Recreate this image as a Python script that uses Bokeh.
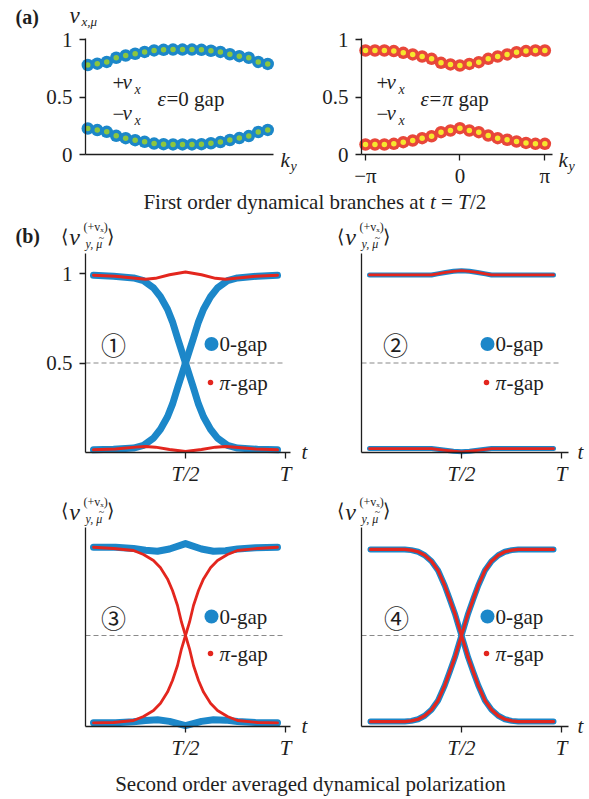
from bokeh.plotting import figure
from bokeh.layouts import column, row
from bokeh.models import Label, FixedTicker, Range1d
from bokeh.embed import file_html
from bokeh.resources import INLINE

# ---------------------------------------------------------------- data
# (a) first-order dynamical branches at t = T/2, 20 samples across k_y
ky_index = list(range(20))
ky_tick_labels = {0: "−π", 10: "0", 19: "π"}

zero_gap_plus = [0.778, 0.790, 0.805, 0.841, 0.861, 0.876, 0.892, 0.905, 0.910, 0.912,
                 0.912, 0.912, 0.910, 0.902, 0.892, 0.872, 0.855, 0.841, 0.805, 0.788]
zero_gap_minus = [0.226, 0.212, 0.197, 0.162, 0.142, 0.125, 0.110, 0.095, 0.090, 0.088,
                  0.088, 0.088, 0.090, 0.098, 0.108, 0.126, 0.143, 0.160, 0.196, 0.214]
pi_gap_plus = [0.904, 0.904, 0.904, 0.899, 0.884, 0.870, 0.852, 0.832, 0.797, 0.783,
               0.774, 0.788, 0.803, 0.832, 0.852, 0.870, 0.890, 0.899, 0.904, 0.904]
pi_gap_minus = [0.087, 0.087, 0.087, 0.093, 0.107, 0.122, 0.142, 0.159, 0.194, 0.209,
                0.229, 0.209, 0.194, 0.165, 0.142, 0.128, 0.113, 0.101, 0.093, 0.093]

# (b) second-order averaged dynamical polarization, t in units of T
t_cross = [0.04, 0.14, 0.24, 0.29, 0.34, 0.375, 0.41, 0.435, 0.46, 0.48, 0.5,
           0.52, 0.54, 0.565, 0.59, 0.625, 0.66, 0.71, 0.76, 0.86, 0.96]
t_flat = [0.04, 0.15, 0.25, 0.3, 0.35, 0.42, 0.5, 0.58, 0.65, 0.7, 0.75, 0.85, 0.96]

# panel 1
p1_zero_down = [0.99, 0.985, 0.975, 0.96, 0.92, 0.87, 0.80, 0.73, 0.64, 0.57, 0.50,
                0.43, 0.36, 0.27, 0.20, 0.13, 0.08, 0.04, 0.025, 0.018, 0.015]
p1_zero_up = [0.015, 0.018, 0.025, 0.04, 0.08, 0.13, 0.20, 0.27, 0.36, 0.43, 0.50,
              0.57, 0.64, 0.73, 0.80, 0.87, 0.92, 0.96, 0.975, 0.985, 0.99]
p1_pi_top = [0.99, 0.985, 0.973, 0.968, 0.973, 0.993, 1.008, 0.993, 0.973, 0.968, 0.973, 0.985, 0.99]
p1_pi_bottom = [0.015, 0.02, 0.03, 0.034, 0.03, 0.017, 0.005, 0.017, 0.03, 0.034, 0.03, 0.02, 0.015]

# panel 2
t2 = [0.04, 0.2, 0.35, 0.38, 0.42, 0.46, 0.5, 0.54, 0.58, 0.62, 0.65, 0.8, 0.96]
p2_zero_top = [0.992, 0.992, 0.992, 0.998, 1.006, 1.012, 1.016, 1.012, 1.006, 0.998, 0.992, 0.992, 0.992]
p2_zero_bottom = [0.022, 0.022, 0.022, 0.018, 0.012, 0.007, 0.004, 0.007, 0.012, 0.018, 0.022, 0.022, 0.022]
p2_pi_top = [0.992, 0.992, 0.992, 0.998, 1.006, 1.012, 1.016, 1.012, 1.006, 0.998, 0.992, 0.992, 0.992]
p2_pi_bottom = [0.022, 0.022, 0.022, 0.018, 0.012, 0.007, 0.004, 0.007, 0.012, 0.018, 0.022, 0.022, 0.022]

# panel 3
t3 = [0.04, 0.15, 0.24, 0.3, 0.36, 0.42, 0.5, 0.58, 0.64, 0.7, 0.76, 0.85, 0.96]
p3_zero_top = [0.985, 0.985, 0.978, 0.968, 0.963, 0.975, 1.005, 0.975, 0.963, 0.966, 0.975, 0.982, 0.985]
p3_zero_bottom = [0.02, 0.02, 0.026, 0.033, 0.037, 0.028, 0.005, 0.028, 0.037, 0.035, 0.027, 0.022, 0.02]
p3_pi_down = [0.985, 0.978, 0.967, 0.945, 0.912, 0.872, 0.811, 0.747, 0.665, 0.573, 0.5,
              0.427, 0.335, 0.253, 0.189, 0.128, 0.088, 0.055, 0.033, 0.022, 0.02]
p3_pi_up = [0.02, 0.022, 0.033, 0.055, 0.088, 0.128, 0.189, 0.253, 0.335, 0.427, 0.5,
            0.573, 0.665, 0.747, 0.811, 0.872, 0.912, 0.945, 0.967, 0.978, 0.985]

# panel 4
t4 = [0.045, 0.216, 0.249, 0.283, 0.316, 0.35, 0.383, 0.416, 0.441, 0.467, 0.487, 0.5,
      0.513, 0.533, 0.559, 0.584, 0.617, 0.65, 0.684, 0.717, 0.751, 0.784, 0.96]
p4_zero_down = [0.973, 0.973, 0.969, 0.96, 0.941, 0.908, 0.857, 0.775, 0.70, 0.62, 0.546, 0.5,
                0.454, 0.38, 0.30, 0.225, 0.143, 0.092, 0.059, 0.04, 0.031, 0.027, 0.027]
p4_zero_up = [0.027, 0.027, 0.031, 0.04, 0.059, 0.092, 0.143, 0.225, 0.30, 0.38, 0.454, 0.5,
              0.546, 0.62, 0.70, 0.775, 0.857, 0.908, 0.941, 0.96, 0.969, 0.973, 0.973]
p4_pi_down = p4_zero_down
p4_pi_up = p4_zero_up

t_ticks = {0.5: "T/2", 1: "T"}

# ---------------------------------------------------------------- style
SERIF = "Liberation Serif"
INK = "#1e1e1e"
BLUE = "#1c87c9"
GREEN = "#8cc63f"
RED_A = "#e8473a"
YELLOW = "#f6e72e"
RED_B = "#e3261e"
DASH = "#8a8a8a"
FS = "21px"


class Panel:
    """A borderless figure whose axes sit at a fixed data location.

    (ox, oy) is the canvas pixel position of the data origin and sx, sy the
    pixels per data unit, so text can be placed anywhere on the canvas.
    """

    def __init__(self, page_x, page_y, width, height, ox, oy, sx, sy):
        self.ox, self.oy, self.sx, self.sy = ox, oy, sx, sy
        xr = ((page_x - ox) / sx, (page_x + width - ox) / sx)
        yr = ((oy - page_y - height) / sy, (oy - page_y) / sy)
        self.fig = figure(width=width, height=height,
                          x_range=Range1d(*xr), y_range=Range1d(*yr),
                          output_backend="svg", toolbar_location=None, min_border=0)
        f = self.fig
        f.grid.visible = False
        f.outline_line_color = None
        f.background_fill_color = "white"
        f.border_fill_color = "white"

    def at(self, X, Y):
        return (X - self.ox) / self.sx, (self.oy - Y) / self.sy

    def text(self, X, Y, s, size=FS, style="normal", align="left", font=SERIF, color=INK):
        x, y = self.at(X, Y)
        self.fig.add_layout(Label(x=x, y=y, text=s, text_font=font, text_font_size=size,
                                  text_font_style=style, text_align=align,
                                  text_baseline="middle", text_color=color))


def style_axis(ax, ticks, labels=None, italic=False, standoff=4, at=0.0, bounds=(0, 1)):
    ax.fixed_location = at
    ax.bounds = bounds
    ax.ticker = FixedTicker(ticks=ticks)
    if labels is not None:
        ax.major_label_overrides = labels
    ax.axis_line_color = INK
    ax.axis_line_width = 1.3
    ax.major_tick_line_color = INK if ticks else None
    ax.major_tick_line_width = 1.3
    ax.major_tick_out = 6
    ax.major_tick_in = 0
    ax.minor_tick_line_color = None
    ax.major_label_text_font = SERIF
    ax.major_label_text_font_size = FS
    ax.major_label_text_color = INK
    ax.major_label_standoff = standoff
    if italic:
        ax.major_label_text_font_style = "italic"


# ---------------------------------------------------------------- (a)
a_ylabels = {0: "0", 0.5: "0.5", 1: "1"}

fa1 = Panel(0, 0, 320, 188, 87.3, 154, 9.47, 115)
fa2 = Panel(320, 0, 269, 188, 365, 154, 9.44, 115)

style_axis(fa1.fig.xaxis[0], [], at=0, bounds=(-0.243, 19.61))
style_axis(fa1.fig.yaxis[0], [0, 0.5, 1], a_ylabels, standoff=7, at=-0.243, bounds=(0, 1.01))
style_axis(fa2.fig.xaxis[0], [0, 10, 19], ky_tick_labels, standoff=3, at=0, bounds=(-0.424, 19.81))
style_axis(fa2.fig.yaxis[0], [0, 0.5, 1], a_ylabels, standoff=7, at=-0.424, bounds=(0, 1.01))

for branch in (zero_gap_plus, zero_gap_minus):
    fa1.fig.scatter(ky_index, branch, size=12.5, fill_color=BLUE, line_color=None)
    fa1.fig.scatter(ky_index, branch, size=5.5, fill_color=GREEN, line_color=None)
for branch in (pi_gap_plus, pi_gap_minus):
    fa2.fig.scatter(ky_index, branch, size=12.5, fill_color=RED_A, line_color=None)
    fa2.fig.scatter(ky_index, branch, size=5.5, fill_color=YELLOW, line_color=None)

fa1.text(15, 16, "(a)", size="20px", style="bold")
fa1.text(74, 15, "v", size="23px", style="italic", align="center")
fa1.text(81, 21, "x,μ", size="13px", style="italic")

for pan, x_sign, x_eps in ((fa1, 112, 157), (fa2, 376, 420)):
    pan.text(x_sign, 82, "+", size=FS)
    pan.text(x_sign + 10, 81, "v", size=FS, style="italic")
    pan.text(x_sign + 22, 89, "x", size="14px", style="italic")
    pan.text(x_sign, 113, "−", size=FS)
    pan.text(x_sign + 10, 112, "v", size=FS, style="italic")
    pan.text(x_sign + 22, 120, "x", size="14px", style="italic")
    pan.text(x_eps, 98, "ε", size=FS, style="italic")

fa1.text(166, 98, "=0 gap", size=FS)
fa2.text(429, 98, "=", size=FS)
fa2.text(442, 98, "π", size=FS, style="italic")
fa2.text(458, 98, "gap", size=FS)

fa1.text(280, 159, "k", size=FS, style="italic")
fa1.text(290, 166, "y", size="14px", style="italic")
fa2.text(558, 159, "k", size=FS, style="italic")
fa2.text(568, 166, "y", size="14px", style="italic")


def caption_fig(height):
    c = figure(width=589, height=height, x_range=Range1d(0, 589), y_range=Range1d(0, height),
               output_backend="svg", toolbar_location=None,
               x_axis_location=None, y_axis_location=None, min_border=0)
    c.grid.visible = False
    c.outline_line_color = None
    return c


def cap_text(fig, x, y, s, style="normal", align="left"):
    fig.add_layout(Label(x=x, y=y, text=s, text_font=SERIF, text_font_size=FS,
                         text_font_style=style, text_align=align,
                         text_baseline="middle", text_color=INK))


cap1 = caption_fig(27)
cap_text(cap1, 424, 14, "First order dynamical branches at", align="right")
cap_text(cap1, 429.5, 14, "t", style="italic")
cap_text(cap1, 446.5, 14, "=", align="center")
cap_text(cap1, 457.5, 14, "T", style="italic")
cap_text(cap1, 469.5, 14, "/2")

# ---------------------------------------------------------------- (b)
b1 = Panel(0, 215, 320, 272, 85, 452, 200, 179)
b2 = Panel(320, 215, 269, 272, 361, 452, 200, 179)
b3 = Panel(0, 487, 320, 277, 85, 726, 200, 182)
b4 = Panel(320, 487, 269, 277, 361, 726, 200, 182)

style_axis(b1.fig.yaxis[0], [0.5, 1], {0.5: "0.5", 1: "1"}, standoff=7, bounds=(0, 1.112))
style_axis(b2.fig.yaxis[0], [], bounds=(0, 1.112))
style_axis(b3.fig.yaxis[0], [], bounds=(0, 1.093))
style_axis(b4.fig.yaxis[0], [], bounds=(0, 1.093))
for pan, x_end, dash_end in ((b1, 1.025, 0.99), (b2, 1.035, 0.985),
                             (b3, 1.025, 0.99), (b4, 1.035, 1.06)):
    style_axis(pan.fig.xaxis[0], [0.5, 1], t_ticks, italic=True, standoff=3,
               bounds=(0, x_end))
    pan.fig.line([0, dash_end], [0.5, 0.5], line_color=DASH, line_dash="5 3",
                 line_width=1.2)


def curve(pan, t, v, color, width):
    pan.fig.line(t, v, line_color=color, line_width=width,
                 line_cap="round", line_join="round")


curve(b1, t_cross, p1_zero_down, BLUE, 7)
curve(b1, t_cross, p1_zero_up, BLUE, 7)
curve(b1, t_flat, p1_pi_top, RED_B, 3)
curve(b1, t_flat, p1_pi_bottom, RED_B, 3)

curve(b2, t2, p2_zero_top, BLUE, 5)
curve(b2, t2, p2_zero_bottom, BLUE, 5)
curve(b2, t2, p2_pi_top, RED_B, 2.8)
curve(b2, t2, p2_pi_bottom, RED_B, 2.8)

curve(b3, t3, p3_zero_top, BLUE, 7)
curve(b3, t3, p3_zero_bottom, BLUE, 7)
curve(b3, t_cross, p3_pi_down, RED_B, 2.8)
curve(b3, t_cross, p3_pi_up, RED_B, 2.8)

curve(b4, t4, p4_zero_down, BLUE, 6)
curve(b4, t4, p4_zero_up, BLUE, 6)
curve(b4, t4, p4_pi_down, RED_B, 3.2)
curve(b4, t4, p4_pi_up, RED_B, 3.2)


def decorate(pan, y_top, badge, badge_dx, zero_y, pi_y):
    XL = pan.ox
    YT = pan.oy - y_top * pan.sy
    YB = pan.oy
    # y-axis label  <v^{(+v_x)}_{y, mu~}>
    pan.text(XL - 21, YT - 17, "⟨", size="19px", align="center")
    pan.text(XL - 11, YT - 16, "v", size="24px", style="italic", align="center")
    pan.text(XL - 2, YT - 26, "(+vₓ)", size="12px")
    pan.text(XL, YT - 9, "y, μ", size="12px", style="italic")
    pan.text(XL + 16, YT - 16, "~", size="10px", align="center")
    pan.text(XL + 25, YT - 17, "⟩", size="19px", align="center")
    # x-axis name
    pan.text(XL + 219, YB - 1, "t", size=FS, style="italic", align="center")
    # panel badge
    pan.text(XL + badge_dx, zero_y, badge, size="25px", align="center",
             font="Noto Sans CJK JP")
    # legend
    x_dot, y_dot = pan.at(XL + 126, zero_y)
    pan.fig.scatter([x_dot], [y_dot], size=14, fill_color=BLUE, line_color=None)
    x_dot, y_dot = pan.at(XL + 125, pi_y)
    pan.fig.scatter([x_dot], [y_dot], size=5.5, fill_color=RED_B, line_color=None)
    pan.text(XL + 134, zero_y, "0-gap", size=FS)
    pan.text(XL + 134, pi_y, "π", size=FS, style="italic")
    pan.text(XL + 145, pi_y, "-gap", size=FS)


decorate(b1, 1.112, "①", 28, 343.5, 382)
decorate(b2, 1.112, "②", 34, 343.5, 382)
decorate(b3, 1.093, "③", 28, 616, 653)
decorate(b4, 1.093, "④", 35, 616, 653)

b1.text(15, 235, "(b)", size="20px", style="bold")

cap2 = caption_fig(35)
cap_text(cap2, 310, 16, "Second order averaged dynamical polarization", align="center")

layout = column(
    row(fa1.fig, fa2.fig),
    cap1,
    row(b1.fig, b2.fig),
    row(b3.fig, b4.fig),
    cap2,
)

open("out.html", "w").write(file_html(layout, INLINE))
